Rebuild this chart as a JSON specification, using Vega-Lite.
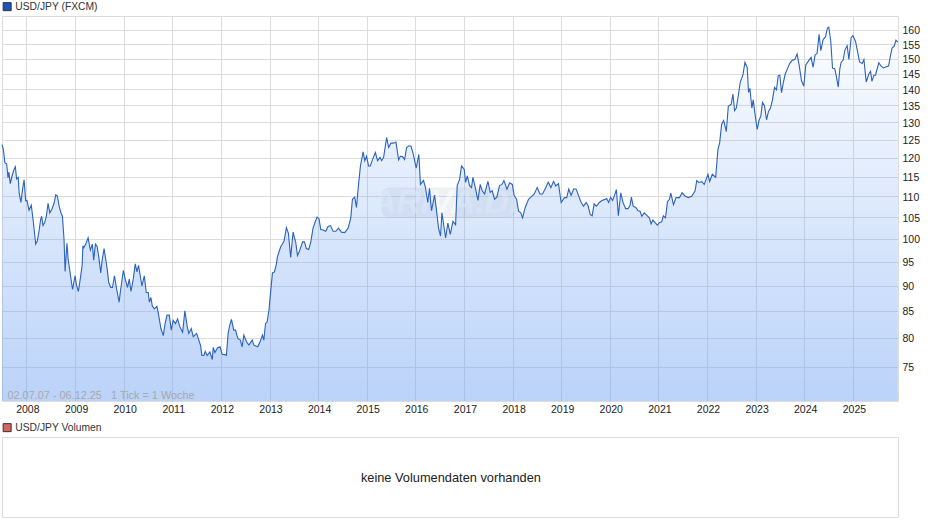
{"$schema":"https://vega.github.io/schema/vega-lite/v6.json","background":"white","padding":{"left":-1,"top":1,"right":0,"bottom":0},"config":{"view":{"stroke":"#dcdcdc","strokeWidth":1},"font":"Liberation Sans"},"spacing":7,"datasets":{"px":[{"d":"2007-07-02","v":123.6},{"d":"2007-07-12","v":122.3},{"d":"2007-07-24","v":118.6},{"d":"2007-08-06","v":118.4},{"d":"2007-08-16","v":114.7},{"d":"2007-08-23","v":116.2},{"d":"2007-09-02","v":113.2},{"d":"2007-09-15","v":115.1},{"d":"2007-09-30","v":116.9},{"d":"2007-10-10","v":117.6},{"d":"2007-10-20","v":114.4},{"d":"2007-11-01","v":114.8},{"d":"2007-11-08","v":110.8},{"d":"2007-11-21","v":108.5},{"d":"2007-12-03","v":111.7},{"d":"2007-12-15","v":114.2},{"d":"2007-12-27","v":108.9},{"d":"2008-01-06","v":109},{"d":"2008-01-21","v":106.6},{"d":"2008-02-07","v":107.8},{"d":"2008-02-22","v":104},{"d":"2008-03-11","v":98.8},{"d":"2008-03-23","v":99.5},{"d":"2008-04-05","v":101.7},{"d":"2008-04-17","v":104.4},{"d":"2008-04-25","v":105.2},{"d":"2008-05-05","v":103},{"d":"2008-05-18","v":103.7},{"d":"2008-05-30","v":105.2},{"d":"2008-06-12","v":108.3},{"d":"2008-06-25","v":106},{"d":"2008-07-10","v":106.8},{"d":"2008-07-27","v":108.3},{"d":"2008-08-09","v":110.4},{"d":"2008-08-21","v":110.1},{"d":"2008-09-03","v":107.6},{"d":"2008-09-18","v":105.9},{"d":"2008-09-28","v":105.2},{"d":"2008-10-10","v":99.9},{"d":"2008-10-18","v":92.9},{"d":"2008-11-01","v":99},{"d":"2008-11-10","v":95.5},{"d":"2008-11-28","v":92},{"d":"2008-12-13","v":89.2},{"d":"2009-01-01","v":92},{"d":"2009-01-11","v":90.2},{"d":"2009-01-26","v":88.8},{"d":"2009-02-10","v":91.5},{"d":"2009-02-23","v":94.2},{"d":"2009-03-01","v":98.4},{"d":"2009-03-07","v":98},{"d":"2009-03-22","v":98.8},{"d":"2009-04-09","v":100.2},{"d":"2009-04-26","v":97.5},{"d":"2009-05-11","v":98.8},{"d":"2009-05-21","v":95.3},{"d":"2009-06-03","v":98.8},{"d":"2009-06-15","v":98.4},{"d":"2009-06-28","v":96},{"d":"2009-07-13","v":92.6},{"d":"2009-07-23","v":95.2},{"d":"2009-08-07","v":97.8},{"d":"2009-08-30","v":93.5},{"d":"2009-09-11","v":90.6},{"d":"2009-09-26","v":89.6},{"d":"2009-10-09","v":89.6},{"d":"2009-10-24","v":92},{"d":"2009-11-08","v":89.5},{"d":"2009-11-28","v":86.7},{"d":"2009-12-08","v":88.9},{"d":"2009-12-30","v":93.1},{"d":"2010-01-13","v":91.3},{"d":"2010-01-30","v":89.6},{"d":"2010-02-12","v":91.3},{"d":"2010-02-25","v":88.8},{"d":"2010-03-14","v":91.3},{"d":"2010-03-29","v":94.5},{"d":"2010-04-11","v":92.8},{"d":"2010-04-23","v":94.2},{"d":"2010-05-18","v":89.9},{"d":"2010-06-05","v":92},{"d":"2010-06-20","v":88.6},{"d":"2010-07-05","v":88.6},{"d":"2010-07-13","v":86.7},{"d":"2010-07-25","v":87.6},{"d":"2010-08-04","v":86},{"d":"2010-08-19","v":85.4},{"d":"2010-09-08","v":85.9},{"d":"2010-09-21","v":84.2},{"d":"2010-10-08","v":81.7},{"d":"2010-10-26","v":80.4},{"d":"2010-11-08","v":82.6},{"d":"2010-11-23","v":84.2},{"d":"2010-12-10","v":84.2},{"d":"2010-12-25","v":81.4},{"d":"2011-01-08","v":83.2},{"d":"2011-01-26","v":82.6},{"d":"2011-02-10","v":83.5},{"d":"2011-02-28","v":82},{"d":"2011-03-20","v":81},{"d":"2011-04-06","v":85},{"d":"2011-04-24","v":82},{"d":"2011-05-06","v":80.8},{"d":"2011-05-24","v":81.7},{"d":"2011-06-08","v":80.2},{"d":"2011-07-03","v":80.8},{"d":"2011-07-16","v":79.9},{"d":"2011-08-02","v":78.6},{"d":"2011-08-12","v":76.9},{"d":"2011-08-27","v":76.9},{"d":"2011-09-06","v":77.6},{"d":"2011-09-21","v":76.9},{"d":"2011-10-11","v":77.5},{"d":"2011-10-29","v":76.2},{"d":"2011-11-05","v":78.3},{"d":"2011-11-18","v":77.4},{"d":"2011-12-06","v":78.2},{"d":"2011-12-26","v":78.4},{"d":"2012-01-11","v":77.1},{"d":"2012-02-05","v":77},{"d":"2012-02-12","v":76.9},{"d":"2012-02-25","v":80.8},{"d":"2012-03-08","v":82.3},{"d":"2012-03-21","v":83.4},{"d":"2012-04-07","v":81.4},{"d":"2012-04-20","v":81.4},{"d":"2012-05-08","v":79.9},{"d":"2012-05-27","v":79.6},{"d":"2012-06-09","v":78.4},{"d":"2012-06-22","v":80.5},{"d":"2012-07-12","v":79.3},{"d":"2012-07-30","v":78.7},{"d":"2012-08-24","v":79.6},{"d":"2012-09-05","v":78.7},{"d":"2012-10-05","v":78.4},{"d":"2012-10-20","v":79.2},{"d":"2012-11-09","v":80.5},{"d":"2012-11-19","v":79.6},{"d":"2012-12-02","v":82.6},{"d":"2012-12-14","v":82.9},{"d":"2012-12-29","v":85.4},{"d":"2013-01-03","v":87},{"d":"2013-01-23","v":92.6},{"d":"2013-02-07","v":92.8},{"d":"2013-02-22","v":94.5},{"d":"2013-03-01","v":96},{"d":"2013-03-26","v":98.2},{"d":"2013-04-08","v":98.8},{"d":"2013-04-20","v":99.5},{"d":"2013-05-08","v":102.5},{"d":"2013-05-23","v":101.2},{"d":"2013-06-09","v":95.9},{"d":"2013-06-27","v":101.5},{"d":"2013-07-17","v":99.2},{"d":"2013-07-30","v":96.3},{"d":"2013-08-15","v":97.3},{"d":"2013-09-06","v":99.3},{"d":"2013-09-20","v":99.3},{"d":"2013-10-05","v":97.8},{"d":"2013-10-22","v":97.6},{"d":"2013-11-06","v":99.1},{"d":"2013-11-24","v":102.4},{"d":"2013-12-12","v":104},{"d":"2013-12-24","v":105},{"d":"2014-01-08","v":104.6},{"d":"2014-01-21","v":102.1},{"d":"2014-02-07","v":102},{"d":"2014-02-27","v":101.7},{"d":"2014-03-17","v":102.8},{"d":"2014-04-04","v":103},{"d":"2014-04-24","v":101.7},{"d":"2014-05-14","v":101.7},{"d":"2014-06-03","v":102.4},{"d":"2014-06-25","v":101.5},{"d":"2014-07-20","v":101.4},{"d":"2014-08-14","v":102.4},{"d":"2014-09-03","v":104.7},{"d":"2014-09-16","v":109.3},{"d":"2014-10-03","v":109.8},{"d":"2014-10-16","v":107.3},{"d":"2014-10-31","v":112.7},{"d":"2014-11-15","v":117.8},{"d":"2014-12-05","v":121.6},{"d":"2014-12-18","v":119.2},{"d":"2014-12-31","v":120.4},{"d":"2015-01-15","v":117.8},{"d":"2015-01-28","v":117.8},{"d":"2015-02-14","v":119.5},{"d":"2015-03-07","v":121.4},{"d":"2015-03-24","v":119.2},{"d":"2015-04-11","v":120.1},{"d":"2015-04-23","v":119.2},{"d":"2015-05-08","v":120.1},{"d":"2015-05-31","v":125.6},{"d":"2015-06-15","v":122.8},{"d":"2015-07-02","v":124},{"d":"2015-07-22","v":124},{"d":"2015-08-09","v":124.3},{"d":"2015-08-29","v":119.4},{"d":"2015-09-11","v":120.4},{"d":"2015-09-28","v":120.3},{"d":"2015-10-13","v":119.5},{"d":"2015-10-28","v":122.8},{"d":"2015-11-12","v":123.2},{"d":"2015-11-30","v":123.2},{"d":"2015-12-17","v":121},{"d":"2016-01-08","v":117.2},{"d":"2016-01-28","v":120.9},{"d":"2016-02-09","v":113},{"d":"2016-03-03","v":114},{"d":"2016-03-18","v":112.2},{"d":"2016-04-04","v":108.5},{"d":"2016-04-17","v":112},{"d":"2016-05-02","v":106.5},{"d":"2016-05-25","v":110.3},{"d":"2016-06-06","v":107.3},{"d":"2016-06-24","v":102.4},{"d":"2016-07-09","v":100.6},{"d":"2016-07-19","v":106},{"d":"2016-08-03","v":102.9},{"d":"2016-08-16","v":100.2},{"d":"2016-09-02","v":103.6},{"d":"2016-09-20","v":101},{"d":"2016-10-10","v":104},{"d":"2016-10-30","v":103.2},{"d":"2016-11-11","v":112.7},{"d":"2016-11-29","v":114.3},{"d":"2016-12-14","v":117.8},{"d":"2017-01-03","v":116.9},{"d":"2017-01-13","v":113.5},{"d":"2017-01-26","v":115.2},{"d":"2017-02-12","v":112.7},{"d":"2017-02-27","v":112.2},{"d":"2017-03-09","v":114.8},{"d":"2017-03-27","v":112.2},{"d":"2017-04-16","v":109},{"d":"2017-05-03","v":113},{"d":"2017-05-18","v":111.4},{"d":"2017-06-05","v":110.6},{"d":"2017-06-30","v":113.8},{"d":"2017-07-17","v":111},{"d":"2017-08-01","v":111.4},{"d":"2017-08-19","v":109.3},{"d":"2017-09-05","v":109.8},{"d":"2017-09-25","v":112.7},{"d":"2017-10-13","v":113},{"d":"2017-10-28","v":114},{"d":"2017-11-20","v":111.8},{"d":"2017-12-10","v":113.4},{"d":"2017-12-30","v":113},{"d":"2018-01-13","v":110.2},{"d":"2018-01-31","v":109.3},{"d":"2018-02-15","v":106.4},{"d":"2018-03-04","v":106},{"d":"2018-03-17","v":104.8},{"d":"2018-04-06","v":107.3},{"d":"2018-05-01","v":109.3},{"d":"2018-05-19","v":109.8},{"d":"2018-06-13","v":110.6},{"d":"2018-07-05","v":112.2},{"d":"2018-07-25","v":110.6},{"d":"2018-08-14","v":110.6},{"d":"2018-09-08","v":112.2},{"d":"2018-09-26","v":113.6},{"d":"2018-10-16","v":112.2},{"d":"2018-11-05","v":113.8},{"d":"2018-11-22","v":112.6},{"d":"2018-12-12","v":113.2},{"d":"2019-01-01","v":108.5},{"d":"2019-01-26","v":109.7},{"d":"2019-02-12","v":109.7},{"d":"2019-02-27","v":111.8},{"d":"2019-03-17","v":110.3},{"d":"2019-04-06","v":111.9},{"d":"2019-04-24","v":111.8},{"d":"2019-05-14","v":110},{"d":"2019-06-01","v":108.5},{"d":"2019-06-18","v":107.6},{"d":"2019-07-08","v":108.5},{"d":"2019-07-23","v":107.7},{"d":"2019-08-07","v":105.6},{"d":"2019-08-22","v":105.3},{"d":"2019-09-06","v":108.2},{"d":"2019-09-21","v":107.6},{"d":"2019-10-03","v":108},{"d":"2019-10-15","v":108.5},{"d":"2019-11-04","v":109},{"d":"2019-11-22","v":109.2},{"d":"2019-12-09","v":109.5},{"d":"2019-12-24","v":108.5},{"d":"2020-01-08","v":109.8},{"d":"2020-01-23","v":109},{"d":"2020-02-05","v":110.2},{"d":"2020-02-20","v":111.7},{"d":"2020-03-06","v":105.3},{"d":"2020-03-24","v":110.9},{"d":"2020-04-10","v":108.5},{"d":"2020-04-30","v":107},{"d":"2020-05-18","v":107},{"d":"2020-06-02","v":107.8},{"d":"2020-06-12","v":109.8},{"d":"2020-06-25","v":107.6},{"d":"2020-07-15","v":107.3},{"d":"2020-08-01","v":106.5},{"d":"2020-08-16","v":106.4},{"d":"2020-08-29","v":105.2},{"d":"2020-09-16","v":106},{"d":"2020-10-06","v":105.4},{"d":"2020-10-25","v":104.8},{"d":"2020-11-07","v":103.4},{"d":"2020-11-20","v":104.3},{"d":"2020-12-07","v":103.7},{"d":"2020-12-24","v":103.1},{"d":"2021-01-08","v":103.7},{"d":"2021-01-26","v":103.9},{"d":"2021-02-07","v":105.3},{"d":"2021-02-23","v":104.8},{"d":"2021-03-10","v":108.7},{"d":"2021-03-25","v":109.3},{"d":"2021-04-04","v":110.8},{"d":"2021-04-24","v":108},{"d":"2021-05-14","v":109.7},{"d":"2021-06-08","v":109.7},{"d":"2021-06-28","v":110.9},{"d":"2021-07-20","v":110.1},{"d":"2021-08-14","v":109.7},{"d":"2021-09-08","v":110},{"d":"2021-10-03","v":111.3},{"d":"2021-10-16","v":114},{"d":"2021-10-31","v":113.5},{"d":"2021-11-23","v":113.7},{"d":"2021-12-11","v":113},{"d":"2022-01-08","v":115.6},{"d":"2022-01-21","v":113.7},{"d":"2022-02-10","v":115.6},{"d":"2022-03-07","v":114.8},{"d":"2022-03-24","v":122.2},{"d":"2022-04-06","v":124.1},{"d":"2022-04-21","v":129.4},{"d":"2022-05-06","v":130.5},{"d":"2022-05-26","v":127.3},{"d":"2022-06-10","v":134.7},{"d":"2022-07-02","v":135.4},{"d":"2022-07-15","v":138.5},{"d":"2022-07-27","v":133.4},{"d":"2022-08-09","v":134.2},{"d":"2022-08-21","v":137.2},{"d":"2022-09-08","v":142.3},{"d":"2022-09-28","v":144.6},{"d":"2022-10-13","v":148.8},{"d":"2022-10-30","v":147},{"d":"2022-11-09","v":139},{"d":"2022-11-19","v":140.3},{"d":"2022-12-04","v":134.2},{"d":"2022-12-14","v":136.7},{"d":"2023-01-01","v":131.2},{"d":"2023-01-13","v":127.9},{"d":"2023-01-28","v":130.7},{"d":"2023-02-09","v":131.7},{"d":"2023-02-22","v":135.9},{"d":"2023-03-09","v":134.9},{"d":"2023-03-24","v":130.7},{"d":"2023-04-08","v":133.2},{"d":"2023-04-23","v":134.2},{"d":"2023-05-08","v":136.7},{"d":"2023-05-23","v":140.6},{"d":"2023-06-07","v":139.8},{"d":"2023-06-20","v":144.3},{"d":"2023-07-02","v":144.5},{"d":"2023-07-15","v":138.9},{"d":"2023-07-27","v":141.8},{"d":"2023-08-11","v":144.8},{"d":"2023-08-31","v":146.9},{"d":"2023-09-15","v":148.4},{"d":"2023-10-05","v":149.5},{"d":"2023-10-23","v":149.7},{"d":"2023-11-09","v":151.6},{"d":"2023-11-24","v":147.9},{"d":"2023-12-12","v":142.7},{"d":"2023-12-29","v":141},{"d":"2024-01-13","v":147.9},{"d":"2024-02-07","v":149.5},{"d":"2024-02-22","v":150.4},{"d":"2024-03-08","v":147.1},{"d":"2024-03-23","v":151.2},{"d":"2024-04-07","v":151.8},{"d":"2024-04-22","v":158.4},{"d":"2024-05-05","v":152.7},{"d":"2024-05-22","v":156.5},{"d":"2024-06-09","v":157.5},{"d":"2024-06-24","v":160.7},{"d":"2024-07-04","v":161},{"d":"2024-07-19","v":155.9},{"d":"2024-08-01","v":146.8},{"d":"2024-08-18","v":146.6},{"d":"2024-08-31","v":143.9},{"d":"2024-09-13","v":140.7},{"d":"2024-09-25","v":146.6},{"d":"2024-10-05","v":148.8},{"d":"2024-10-20","v":149.5},{"d":"2024-11-02","v":152.9},{"d":"2024-11-19","v":154.4},{"d":"2024-12-02","v":149.7},{"d":"2024-12-19","v":157.2},{"d":"2025-01-01","v":158},{"d":"2025-01-21","v":155.9},{"d":"2025-02-08","v":151.8},{"d":"2025-02-20","v":148.9},{"d":"2025-03-12","v":148.4},{"d":"2025-03-25","v":149.7},{"d":"2025-04-11","v":142.3},{"d":"2025-05-01","v":144.9},{"d":"2025-05-14","v":145.8},{"d":"2025-05-24","v":142.5},{"d":"2025-06-08","v":144.5},{"d":"2025-06-20","v":144.5},{"d":"2025-06-30","v":146.2},{"d":"2025-07-15","v":148.6},{"d":"2025-08-01","v":147.5},{"d":"2025-08-19","v":146.9},{"d":"2025-09-08","v":147.3},{"d":"2025-09-26","v":147.5},{"d":"2025-10-11","v":151.2},{"d":"2025-10-23","v":153.7},{"d":"2025-11-07","v":154.2},{"d":"2025-11-20","v":156.3},{"d":"2025-12-05","v":155.7}]},"vconcat":[{"width":896,"height":385,"layer":[{"data":{"values":[{"a":"2015-04-21","b":"2018-02-04","lo":104.9,"hi":112.2}]},"mark":{"type":"rect","cornerRadius":8,"color":"#8a93a5","opacity":0.13},"encoding":{"x":{"field":"a","type":"temporal"},"x2":{"field":"b"},"y":{"field":"lo","type":"quantitative"},"y2":{"field":"hi"}}},{"data":{"values":[{"d":"2016-10-01","v":108.3,"t":"ARIVA.DE"}]},"mark":{"type":"text","fontSize":34,"fontStyle":"italic","fontWeight":"bold","color":"white","opacity":0.5,"align":"center","baseline":"middle"},"encoding":{"x":{"field":"d","type":"temporal"},"y":{"field":"v","type":"quantitative"},"text":{"field":"t"}}},{"data":{"name":"px"},"mark":{"type":"area","interpolate":"linear","fill":{"gradient":"linear","x1":0,"y1":0,"x2":0,"y2":1,"stops":[{"offset":0,"color":"rgba(110,161,242,0.02)"},{"offset":1,"color":"rgba(110,161,242,0.47)"}]}},"encoding":{"x":{"field":"d","type":"temporal"},"y":{"field":"v","type":"quantitative"},"y2":{"datum":69.4}}},{"data":{"name":"px"},"mark":{"type":"line","interpolate":"linear","strokeWidth":1.1,"color":"#2a62bd"},"encoding":{"x":{"field":"d","type":"temporal","title":null,"scale":{"type":"utc","domain":["2007-07-02","2025-12-06"]},"axis":{"tickCount":{"interval":"year","step":1},"format":"%Y","formatType":"utc","grid":true,"gridColor":"#dcdcdc","gridWidth":1,"domain":false,"ticks":false,"labelPadding":3,"labelOffset":1,"labelFontSize":10.5,"labelColor":"#222","labelFont":"Liberation Sans","labelOverlap":false}},"y":{"field":"v","type":"quantitative","title":null,"scale":{"type":"log","domain":[69.4,165.1],"nice":false},"axis":{"orient":"right","values":[75,80,85,90,95,100,105,110,115,120,125,130,135,140,145,150,155,160],"format":"d","grid":true,"gridColor":"#dcdcdc","gridWidth":1,"domain":false,"ticks":false,"labelPadding":4,"labelOffset":1,"labelFontSize":10.5,"labelColor":"#222","labelFont":"Liberation Sans","labelOverlap":false}}}},{"data":{"values":[{"d":"2025-12-05","v":155.7}]},"mark":{"type":"line","strokeWidth":0},"encoding":{"x":{"field":"d","type":"temporal"},"y":{"field":"v","type":"quantitative"},"color":{"datum":"USD/JPY (FXCM)","scale":{"range":["#333333"]},"legend":{"title":null,"orient":"none","legendX":0,"legendY":-14.5,"symbolType":"square","symbolSize":64,"labelOffset":3,"labelFontSize":10.3,"labelColor":"#333","labelFont":"Liberation Sans","encode":{"symbols":{"update":{"fill":{"value":"#1a56b8"},"strokeWidth":{"value":1}}}}}}}},{"data":{"values":[{"d":"2007-08-12","v":70.2,"t":"02.07.07 - 06.12.25\u00a0\u00a0\u00a01 Tick = 1 Woche"}]},"mark":{"type":"text","align":"left","baseline":"middle","fontSize":10.9,"color":"#a8a8a8"},"encoding":{"x":{"field":"d","type":"temporal"},"y":{"field":"v","type":"quantitative"},"text":{"field":"t"}}}]},{"width":896,"height":80,"layer":[{"data":{"values":[{"x":0.501,"y":0.49,"t":"keine Volumendaten vorhanden"}]},"mark":{"type":"text","fontSize":12.8,"font":"Liberation Sans","align":"center","baseline":"middle","color":"#222222"},"encoding":{"x":{"field":"x","type":"quantitative","scale":{"domain":[0,1]},"axis":null},"y":{"field":"y","type":"quantitative","scale":{"domain":[0,1]},"axis":null},"text":{"field":"t"}}},{"data":{"values":[{"x":0.5,"y":0.5}]},"mark":{"type":"line","strokeWidth":0},"encoding":{"x":{"field":"x","type":"quantitative"},"y":{"field":"y","type":"quantitative"},"color":{"datum":"USD/JPY Volumen","scale":{"range":["#333333"]},"legend":{"title":null,"orient":"none","legendX":0,"legendY":-14.5,"symbolType":"square","symbolSize":64,"labelOffset":3,"labelFontSize":10.3,"labelColor":"#333","labelFont":"Liberation Sans","encode":{"symbols":{"update":{"fill":{"value":"#d9635f"},"strokeWidth":{"value":1}}}}}}}}]}],"resolve":{"scale":{"color":"independent"},"legend":{"color":"independent"}}}
